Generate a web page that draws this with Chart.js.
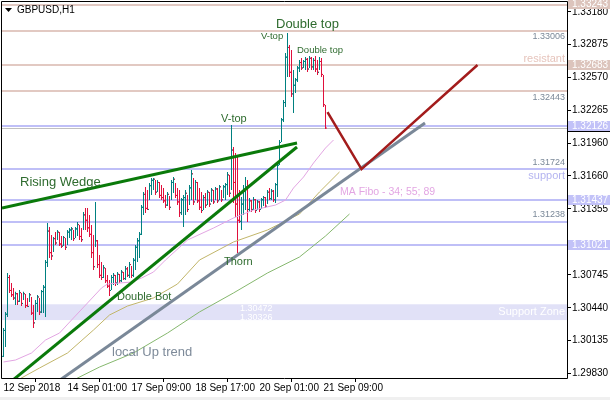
<!DOCTYPE html>
<html>
<head>
<meta charset="utf-8">
<script src="https://cdn.jsdelivr.net/npm/chart.js@4.4.0/dist/chart.umd.min.js"></script>
<style>
  html, body { margin: 0; padding: 0; background: #fff; }
  #wrap { width: 610px; height: 400px; }
</style>
</head>
<body>
<div id="wrap"><canvas id="chart" width="610" height="400"></canvas></div>
<script>
// GBPUSD H1 bars, one per hour starting 12 Sep 17:00
const highs = [
  1.30252,1.30401,1.30762,1.30743,1.30669,1.30623,1.30587,1.30577,1.30604,1.30577,
  1.30587,1.30568,1.30531,1.30577,1.30540,1.30466,1.30512,1.30559,1.30531,1.30604,
  1.30651,1.30882,1.31225,1.31187,1.31113,1.31095,1.31141,1.31160,1.31141,1.31104,
  1.31104,1.31086,1.31160,1.31178,1.31187,1.31160,1.31187,1.31234,1.31206,1.31178,
  1.31326,1.31363,1.31363,1.31299,1.31206,1.31113,1.31419,1.31067,1.30928,1.30863,
  1.30836,1.30808,1.30743,1.30697,1.30743,1.30762,1.30743,1.30771,1.30752,1.30789,
  1.30771,1.30826,1.30817,1.30863,1.30826,1.30900,1.31021,1.31086,1.31141,1.31391,
  1.31512,1.31558,1.31530,1.31595,1.31641,1.31641,1.31623,1.31623,1.31604,1.31576,
  1.31549,1.31484,1.31512,1.31475,1.31623,1.31650,1.31595,1.31549,1.31530,1.31457,
  1.31484,1.31530,1.31484,1.31576,1.31715,1.31641,1.31623,1.31604,1.31549,1.31512,
  1.31484,1.31503,1.31530,1.31512,1.31549,1.31530,1.31558,1.31549,1.31576,1.31530,
  1.31576,1.31595,1.31697,1.31669,1.32132,1.31928,1.31873,1.31836,1.31530,1.31466,
  1.31576,1.31650,1.31623,1.31457,1.31437,1.31466,1.31448,1.31437,1.31428,1.31457,
  1.31475,1.31466,1.31530,1.31549,1.31539,1.31530,1.31595,1.31780,1.31993,1.32197,
  1.32363,1.32798,1.32984,1.32872,1.32826,1.32641,1.32567,1.32678,1.32734,1.32752,
  1.32734,1.32761,1.32752,1.32771,1.32761,1.32752,1.32771,1.32734,1.32761,1.32752,
  1.32595,1.32317
];
const lows = [
  1.29984,1.30077,1.30354,1.30577,1.30540,1.30512,1.30466,1.30466,1.30494,1.30456,
  1.30512,1.30438,1.30447,1.30494,1.30373,1.30252,1.30326,1.30401,1.30373,1.30391,
  1.30391,1.30354,1.30817,1.30900,1.30882,1.30956,1.31021,1.31067,1.31012,1.30993,
  1.31012,1.30975,1.31021,1.31086,1.31067,1.31058,1.31086,1.31104,1.31067,1.31049,
  1.31160,1.31160,1.31141,1.31095,1.30900,1.30789,1.31002,1.30808,1.30715,1.30697,
  1.30715,1.30669,1.30623,1.30549,1.30604,1.30651,1.30641,1.30651,1.30669,1.30678,
  1.30697,1.30697,1.30725,1.30715,1.30715,1.30725,1.30789,1.30863,1.30900,1.31113,
  1.31299,1.31317,1.31345,1.31437,1.31484,1.31530,1.31484,1.31512,1.31457,1.31437,
  1.31410,1.31363,1.31382,1.31345,1.31437,1.31503,1.31457,1.31391,1.31280,1.31299,
  1.31187,1.31299,1.31326,1.31391,1.31437,1.31391,1.31437,1.31410,1.31345,1.31317,
  1.31345,1.31363,1.31391,1.31373,1.31419,1.31400,1.31437,1.31410,1.31437,1.31419,
  1.31457,1.31437,1.31484,1.31466,1.31530,1.31410,1.31280,1.30947,1.31225,1.31160,
  1.31299,1.31345,1.31234,1.31326,1.31326,1.31345,1.31317,1.31345,1.31326,1.31354,
  1.31382,1.31363,1.31400,1.31437,1.31437,1.31419,1.31410,1.31466,1.31761,1.31974,
  1.32160,1.32298,1.32576,1.32576,1.32391,1.32243,1.32428,1.32530,1.32622,1.32641,
  1.32659,1.32641,1.32622,1.32659,1.32641,1.32641,1.32622,1.32595,1.32641,1.32576,
  1.32298,1.32095
];
const closes = [
  1.30230,1.30380,1.30720,1.30600,1.30560,1.30530,1.30570,1.30500,1.30580,1.30480,
  1.30570,1.30460,1.30452,1.30560,1.30390,1.30300,1.30480,1.30540,1.30400,1.30590,
  1.30630,1.30860,1.31150,1.30950,1.30920,1.31080,1.31040,1.31140,1.31030,1.31010,
  1.31090,1.31000,1.31140,1.31160,1.31170,1.31080,1.31170,1.31210,1.31100,1.31070,
  1.31300,1.31250,1.31180,1.31120,1.30950,1.30820,1.31060,1.30840,1.30740,1.30720,
  1.30810,1.30690,1.30640,1.30600,1.30720,1.30740,1.30670,1.30750,1.30690,1.30770,
  1.30710,1.30800,1.30740,1.30840,1.30740,1.30880,1.31000,1.31060,1.31120,1.31370,
  1.31490,1.31360,1.31350,1.31570,1.31620,1.31630,1.31510,1.31600,1.31480,1.31460,
  1.31430,1.31390,1.31490,1.31370,1.31600,1.31630,1.31480,1.31420,1.31320,1.31440,
  1.31460,1.31500,1.31350,1.31550,1.31680,1.31420,1.31600,1.31430,1.31370,1.31340,
  1.31460,1.31390,1.31510,1.31400,1.31530,1.31420,1.31540,1.31430,1.31560,1.31440,
  1.31560,1.31580,1.31670,1.31500,1.31900,1.31600,1.31400,1.31250,1.31240,1.31400,
  1.31520,1.31560,1.31350,1.31430,1.31350,1.31440,1.31340,1.31420,1.31350,1.31440,
  1.31460,1.31380,1.31510,1.31450,1.31520,1.31440,1.31580,1.31760,1.31970,1.32180,
  1.32340,1.32760,1.32850,1.32620,1.32420,1.32500,1.32550,1.32660,1.32710,1.32660,
  1.32720,1.32740,1.32650,1.32750,1.32670,1.32730,1.32650,1.32620,1.32720,1.32600,
  1.32320,1.32104
];
// FX hours run back to back: each bar opens where the previous one closed
const firstOpen = 1.29990;
const opens = [firstOpen, ...closes.slice(0, -1)];

// moving averages: [bar index, price]
const ma34 = [[0,1.29938],[6,1.29956],[14,1.30021],[21,1.30141],[28,1.30206],[34,1.30326],
  [42,1.30484],[49,1.30623],[52,1.30660],[64,1.30678],[69,1.30715],[75,1.30771],[81,1.30882],
  [92,1.31067],[105,1.31178],[115,1.31271],[125,1.31345],[136,1.31391],[141,1.31437],
  [145,1.31549],[150,1.31650],[155,1.31780],[161,1.31919],[165,1.31993]];
const ma55 = [[8,1.29780],[18,1.29882],[32,1.30021],[45,1.30234],[53,1.30373],[62,1.30456],
  [75,1.30531],[87,1.30660],[98,1.30882],[115,1.31049],[132,1.31160],[148,1.31308],
  [158,1.31512],[168,1.31697]];
const ma89 = [[36,1.29780],[48,1.29891],[65,1.30021],[82,1.30206],[98,1.30401],[115,1.30577],
  [132,1.30762],[148,1.30910],[161,1.31104],[173,1.31308]];

// hand drawn objects
const wedgeTop = [[-0.75,1.31363],[146.75,1.31965]];
const wedgeBottom = [[4.75,1.29771],[146.75,1.31928]];
const localTrend = [[28.25,1.29771],[210.75,1.32150]];
const projection = [[162,1.32252],[179,1.31724],[237,1.32687]];

const resistLevels = [1.33243, 1.33006, 1.32683, 1.32443];
const supportLevels = [1.32126, 1.31724, 1.31437, 1.31238, 1.31021];
const supportZone = [1.30326, 1.30472];
const bidPrice = 1.32104;

const axisTagsResist = [1.33243, 1.32683];
const axisTagsSupport = [1.32126, 1.31437, 1.31021];

const yTickVals = [1.33180, 1.32875, 1.32570, 1.32265, 1.31960, 1.31660,
  1.31355, 1.31050, 1.30745, 1.30440, 1.30135, 1.29830];
const yHiddenLabels = [1.31050]; // sits under the 1.31021 tag
const xTickIdx = [0, 32, 64, 96, 128, 160];
const xTickLabels = ['12 Sep 2018', '14 Sep 01:00', '17 Sep 09:00', '18 Sep 17:00', '20 Sep 01:00', '21 Sep 09:00'];

const FONT = '"Liberation Sans", Arial, sans-serif';
const UP = '#008080';
const DOWN = '#e0103c';
const RESIST = '#e2c9c2';
const SUPPORT = '#bfbff7';
const NOTE = '#2e6b2e';

const notes = [
  { text: 'Double top', x: 276, y: 24, size: 13, color: NOTE },
  { text: 'V-top', x: 261, y: 36, size: 9.5, color: NOTE },
  { text: 'Double top', x: 297, y: 50, size: 9.5, color: NOTE },
  { text: 'V-top', x: 221, y: 119, size: 11, color: NOTE },
  { text: 'Rising Wedge', x: 20, y: 182, size: 13, color: NOTE },
  { text: 'Thorn', x: 224, y: 262, size: 11, color: NOTE },
  { text: 'Double Bot', x: 117, y: 297, size: 11, color: NOTE },
  { text: 'local Up trend', x: 112, y: 352, size: 13, color: '#7d8a99' },
  { text: 'MA Fibo - 34; 55; 89', x: 340, y: 192, size: 10.5, color: '#e3a6e3' }
];

const pts = arr => arr.map(([x, y]) => ({ x, y }));
const barColors = closes.map((c, i) => c >= opens[i] ? UP : DOWN);

const overlay = {
  id: 'overlay',
  beforeDraw(chart) {
    const { ctx } = chart;
    ctx.save();
    ctx.fillStyle = '#fff';
    ctx.fillRect(0, 0, chart.width, chart.height);
    ctx.fillStyle = '#f0f0f0';
    ctx.fillRect(0, 397, chart.width, 3);
    ctx.restore();
  },
  beforeDatasetsDraw(chart) {
    const { ctx, chartArea: a, scales: { y } } = chart;
    const w = a.right - a.left;
    ctx.save();
    // support zone band
    const zTop = y.getPixelForValue(supportZone[1]);
    const zBot = y.getPixelForValue(supportZone[0]);
    ctx.fillStyle = '#e1e1f7';
    ctx.fillRect(a.left, zTop, w, zBot - zTop);
    ctx.fillStyle = '#fff';
    ctx.font = '9px ' + FONT;
    ctx.textBaseline = 'middle';
    ctx.fillText(supportZone[1].toFixed(5), 240, zTop + 4);
    ctx.fillText(supportZone[0].toFixed(5), 240, zBot - 3);
    ctx.font = '11px ' + FONT;
    ctx.textAlign = 'right';
    ctx.fillText('Support Zone', a.right - 2, (zTop + zBot) / 2);

    // level lines
    ctx.fillStyle = RESIST;
    resistLevels.forEach(v => {
      const py = Math.round(y.getPixelForValue(v));
      ctx.fillRect(a.left, py - 1, w, 2);
    });
    ctx.fillStyle = SUPPORT;
    supportLevels.forEach(v => {
      const py = Math.round(y.getPixelForValue(v));
      ctx.fillRect(a.left, py - 1, w, 2);
    });
    // bid line
    ctx.fillStyle = '#c0c0c0';
    ctx.fillRect(a.left, Math.round(y.getPixelForValue(bidPrice)), w, 1);

    // level captions
    ctx.textAlign = 'right';
    ctx.font = '9px ' + FONT;
    ctx.fillStyle = '#7a8898';
    [resistLevels[1], resistLevels[3]].forEach(v => {
      ctx.fillText(v.toFixed(5), a.right - 2, y.getPixelForValue(v) + 6);
    });
    [supportLevels[1], supportLevels[3]].forEach(v => {
      ctx.fillText(v.toFixed(5), a.right - 2, y.getPixelForValue(v) - 7);
    });
    ctx.font = '11px ' + FONT;
    ctx.fillStyle = '#e6c4bc';
    ctx.fillText('resistant', a.right - 2, y.getPixelForValue(resistLevels[2]) - 7);
    ctx.fillStyle = '#b4b4f0';
    ctx.fillText('support', a.right - 2, y.getPixelForValue(supportLevels[1]) + 7);
    ctx.restore();
  },
  afterDatasetsDraw(chart) {
    const { ctx } = chart;
    ctx.save();
    ctx.textBaseline = 'middle';
    ctx.textAlign = 'left';
    notes.forEach(n => {
      ctx.font = n.size + 'px ' + FONT;
      ctx.fillStyle = n.color;
      ctx.fillText(n.text, n.x, n.y);
    });
    // title
    ctx.fillStyle = '#000';
    ctx.font = '10px ' + FONT;
    ctx.fillText('GBPUSD,H1', 17, 10);
    ctx.beginPath();
    ctx.moveTo(5, 8); ctx.lineTo(12, 8); ctx.lineTo(8.5, 12); ctx.closePath();
    ctx.fill();
    ctx.restore();
  },
  afterDraw(chart) {
    const { ctx, chartArea: a, scales: { y } } = chart;
    ctx.save();
    // frame
    ctx.strokeStyle = '#000';
    ctx.lineWidth = 1;
    ctx.beginPath();
    ctx.moveTo(a.left - 0.5, a.bottom + 0.5);
    ctx.lineTo(a.left - 0.5, a.top - 0.5);
    ctx.lineTo(a.right + 0.5, a.top - 0.5);
    ctx.moveTo(a.right + 0.5, a.top - 0.5);
    ctx.lineTo(a.right + 0.5, a.bottom + 0.5);
    ctx.lineTo(a.left - 0.5, a.bottom + 0.5);
    ctx.stroke();

    // price tags on the axis
    const tag = (v, bg) => {
      const py = Math.round(y.getPixelForValue(v));
      ctx.fillStyle = bg;
      ctx.fillRect(a.right + 1, Math.max(0, py - 5), chart.width - a.right, py < 6 ? py + 4 : 10);
      ctx.fillStyle = '#fff';
      ctx.font = '10px ' + FONT;
      ctx.textBaseline = 'middle';
      ctx.textAlign = 'left';
      ctx.fillText(v.toFixed(5), a.right + 5, py < 6 ? py - 1 : py);
    };
    const bidY = Math.round(y.getPixelForValue(bidPrice));
    ctx.fillStyle = '#000';
    ctx.fillRect(a.right + 1, bidY - 4, chart.width - a.right, 8);
    axisTagsResist.forEach(v => tag(v, '#dcc4bc'));
    axisTagsSupport.forEach(v => tag(v, '#c2c2f8'));
    ctx.restore();
  }
};

Chart.defaults.font.family = FONT;

const tickSet = (vals, shift) => ({
  type: 'line',
  data: vals.map((v, i) => ({ x: i + shift, y: v })),
  showLine: false,
  pointStyle: 'line',
  pointRadius: 0.5,
  pointHoverRadius: 0,
  pointBorderWidth: 1,
  pointBorderColor: barColors,
  order: 5
});

new Chart(document.getElementById('chart'), {
  type: 'bar',
  data: {
    datasets: [
      {
        type: 'bar',
        data: highs.map((h, i) => ({ x: i, y: [lows[i], h] })),
        backgroundColor: barColors,
        barThickness: 1,
        borderWidth: 0,
        inflateAmount: 0,
        grouped: false,
        order: 6
      },
      tickSet(opens, -0.5),
      tickSet(closes, 0.5),
      { type: 'line', data: pts(ma34), borderColor: '#e3a6e3', borderWidth: 1, pointRadius: 0, order: 4 },
      { type: 'line', data: pts(ma55), borderColor: '#c2b66a', borderWidth: 1, pointRadius: 0, order: 4 },
      { type: 'line', data: pts(ma89), borderColor: '#86b86e', borderWidth: 1, pointRadius: 0, order: 4 },
      { type: 'line', data: pts(localTrend), borderColor: '#7a8898', borderWidth: 3, pointRadius: 0, order: 2 },
      { type: 'line', data: pts(wedgeTop), borderColor: '#0a7a0a', borderWidth: 3, pointRadius: 0, order: 1 },
      { type: 'line', data: pts(wedgeBottom), borderColor: '#0a7a0a', borderWidth: 3, pointRadius: 0, order: 1 },
      { type: 'line', data: pts(projection), borderColor: '#a31c1c', borderWidth: 2.5, pointRadius: 0, order: 1 }
    ]
  },
  options: {
    responsive: false,
    animation: false,
    devicePixelRatio: 1,
    layout: { autoPadding: false, padding: { left: 2, top: 2, right: 0, bottom: 0 } },
    plugins: { legend: { display: false }, tooltip: { enabled: false } },
    scales: {
      x: {
        type: 'linear',
        min: -0.75,
        max: 281.75,
        offset: false,
        border: { display: false },
        grid: { display: true, drawOnChartArea: false, drawTicks: true, tickLength: 4, color: '#000', lineWidth: 1 },
        ticks: {
          align: 'start', padding: 0, color: '#000', font: { size: 10 }, maxRotation: 0, autoSkip: false,
          callback: v => { const k = xTickIdx.indexOf(v); return k >= 0 ? xTickLabels[k] : ''; }
        },
        afterBuildTicks: s => { s.ticks = xTickIdx.map(v => ({ value: v })); },
        afterFit: s => { s.height = 22; s.paddingLeft = 0; s.paddingRight = 0; }
      },
      y: {
        type: 'linear',
        position: 'right',
        min: 1.297896,
        max: 1.332708,
        border: { display: false },
        grid: { display: true, drawOnChartArea: false, drawTicks: true, tickLength: 4, color: '#000', lineWidth: 1 },
        ticks: {
          padding: 1, color: '#000', font: { size: 10 }, autoSkip: false,
          callback: v => yHiddenLabels.includes(v) ? '' : v.toFixed(5)
        },
        afterBuildTicks: s => { s.ticks = yTickVals.map(v => ({ value: v })); },
        afterFit: s => { s.width = 43; s.paddingTop = 0; s.paddingBottom = 0; }
      }
    }
  },
  plugins: [overlay]
});
</script>
</body>
</html>
